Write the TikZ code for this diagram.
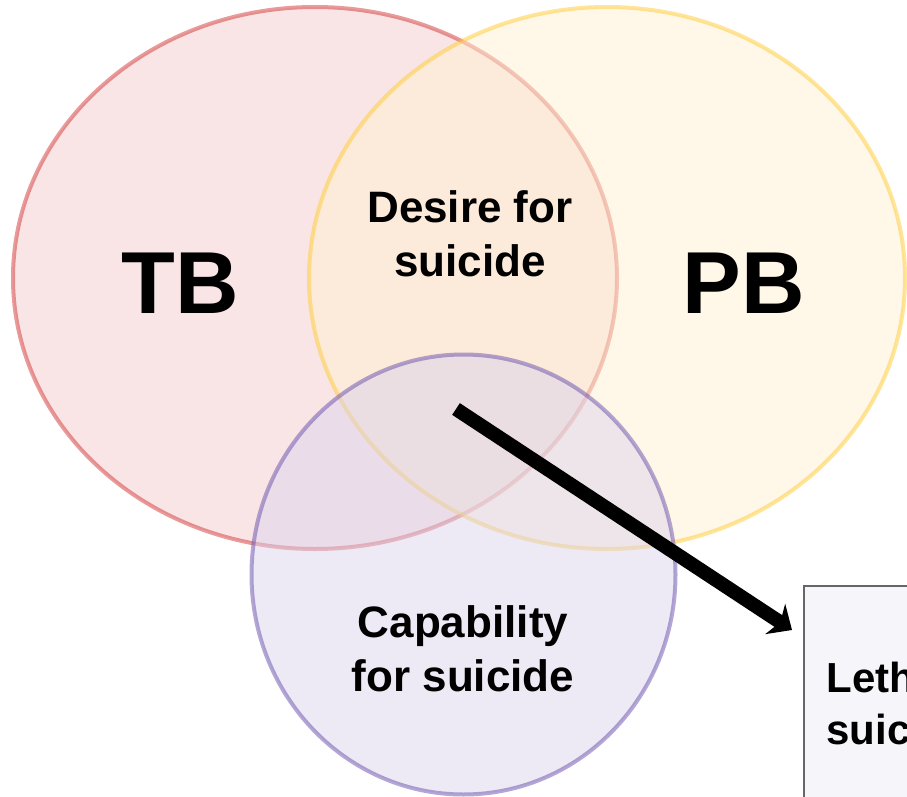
\documentclass[tikz,border=0pt]{standalone}
\usepackage{fontspec}
\setmainfont{Liberation Sans}
\usepackage{tikz}
\usetikzlibrary{arrows.meta}

\definecolor{tbline}{RGB}{211,53,53}
\definecolor{tbfill}{RGB}{243,203,203}
\definecolor{pbline}{RGB}{255,203,51}
\definecolor{pbfill}{RGB}{255,241,209}
\definecolor{capline}{RGB}{105,79,173}
\definecolor{capfill}{RGB}{219,211,235}
\definecolor{boxfill}{RGB}{246,245,250}

\tikzset{
  venn/.style={line width=4pt, opacity=0.5},
  big/.style={font=\bfseries\fontsize{88}{100}\selectfont, anchor=base},
  lbl/.style={font=\bfseries\fontsize{44}{54}\selectfont, align=center, anchor=base},
  outcome/.style={draw=black!60, line width=1.5pt, fill=boxfill, minimum width=260pt, minimum height=300pt},
  conn/.style={line width=14pt, -{Stealth[length=20pt,width=36pt,inset=6pt]}},
}

\begin{document}
\begin{tikzpicture}[x=1pt, y=-1pt]
\useasboundingbox (0,0) rectangle (907,797);
\clip (0,0) rectangle (907,797);
% the three sets
\draw[venn, draw=tbline, fill=tbfill] (315,278) ellipse [x radius=302, y radius=271];
\draw[venn, draw=pbline, fill=pbfill] (607,278) ellipse [x radius=298, y radius=271];
\draw[venn, draw=capline, fill=capfill] (463.5,574.5) ellipse [x radius=212, y radius=220];
% labels
\node[big] (tb) at (180,313) {TB};
\node[big] (pb) at (744,313) {PB};
\node[lbl] (desire) at (470,276) {Desire for\\suicide};
\node[lbl] (capab) at (463,691) {Capability\\for suicide};
% outcome box
\node[outcome, anchor=north west] (lethal) at (803,585) {};
\node[lbl, anchor=base west, align=left, font=\bfseries\fontsize{42}{52}\selectfont] (lethtxt) at (823,744) {Leth\\suic};
% arrow
\coordinate (core) at (456,409);
\coordinate (tip) at (792,630);
\draw[conn] (core) -- (tip);
\end{tikzpicture}
\end{document}
